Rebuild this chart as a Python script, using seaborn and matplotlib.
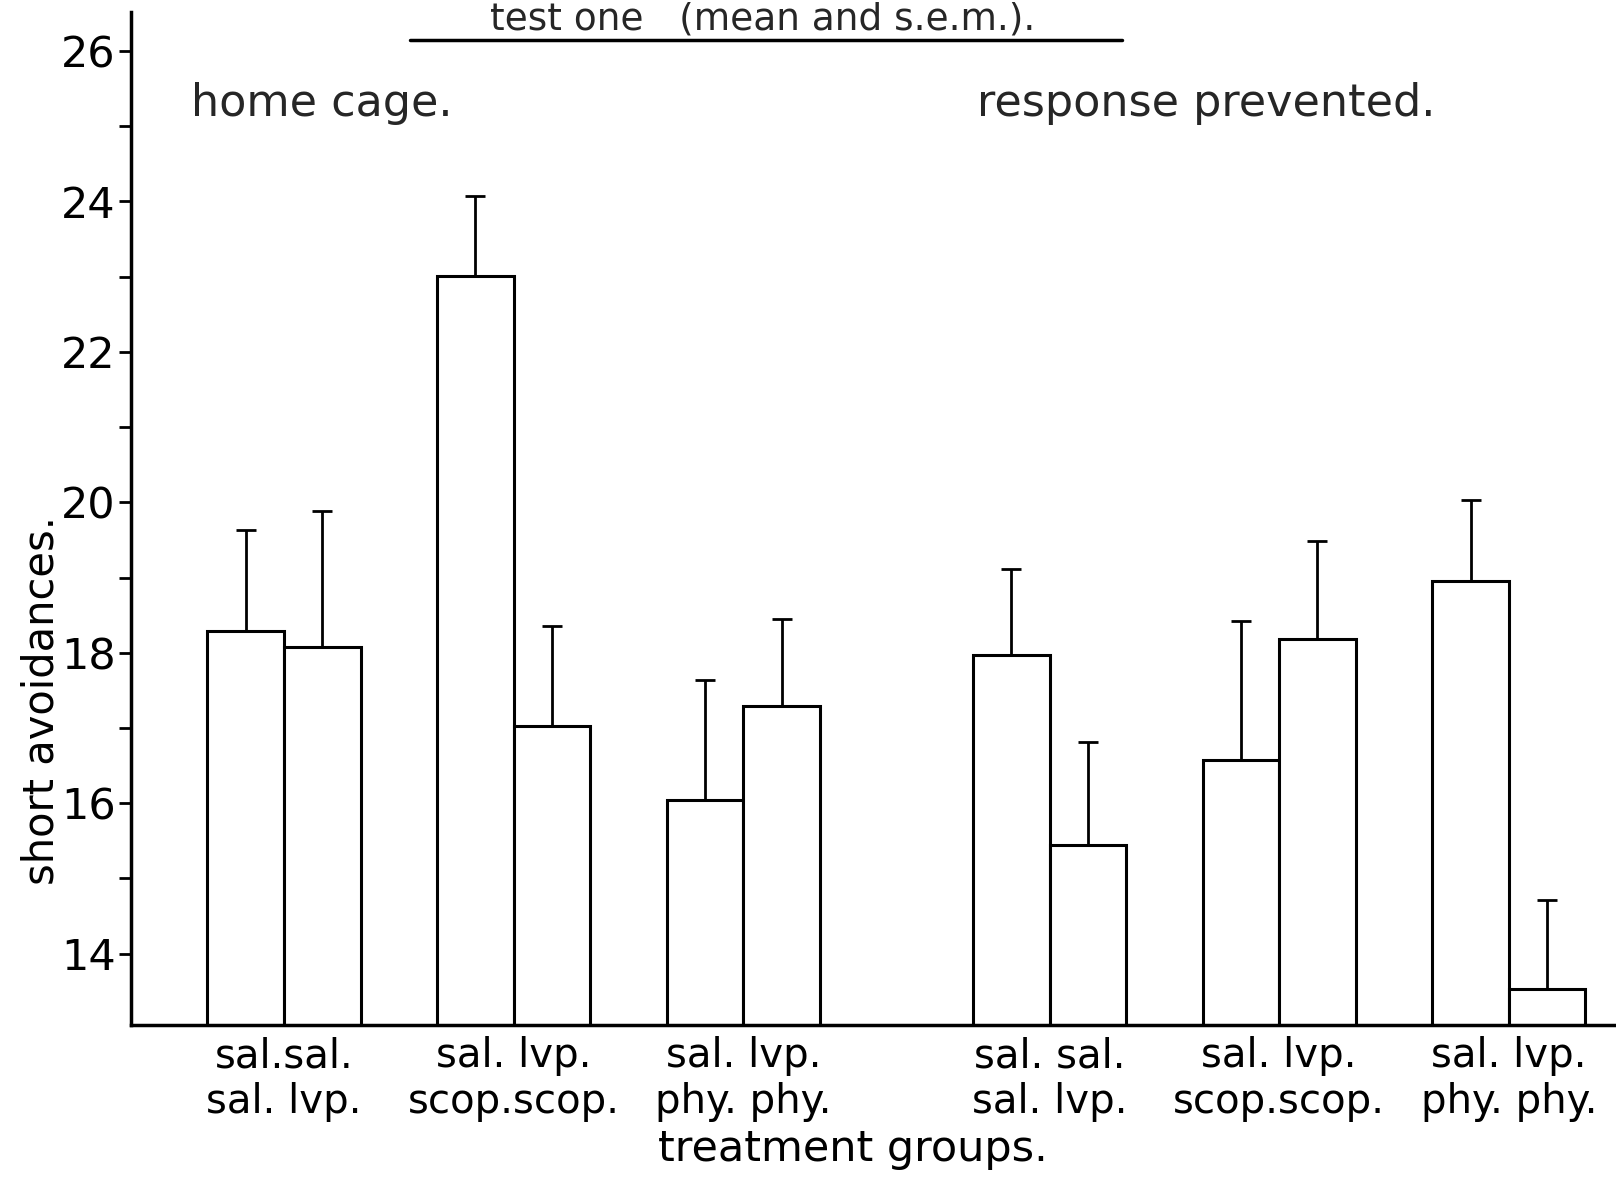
import matplotlib
matplotlib.use("Agg")
import matplotlib.pyplot as plt
from matplotlib.lines import Line2D
from matplotlib.ticker import MultipleLocator
import seaborn as sns
import pandas as pd
import numpy as np

# ---- data ----
group_labels = ["sal.sal.\nsal. lvp.", "sal. lvp.\nscop.scop.", "sal. lvp.\nphy. phy.",
                "sal. sal.\nsal. lvp.", "sal. lvp.\nscop.scop.", "sal. lvp.\nphy. phy."]
bar_slots = [1.5, 2.5, 4.5, 5.5, 7.5, 8.5, 11.5, 12.5, 14.5, 15.5, 17.5, 18.5]
means = [18.29, 18.08, 23.01, 17.03, 16.04, 17.29, 17.97, 15.45, 16.58, 18.18, 18.96, 13.53]
err_tops = [19.63, 19.88, 24.07, 18.36, 17.64, 18.45, 19.11, 16.82, 18.42, 19.49, 20.03, 14.71]
group_centers = [2, 5, 8, 12, 15, 18]
condition_labels = ["home cage.", "response prevented."]
y_ticks = [14, 16, 18, 20, 22, 24, 26]

sem = [t - m for t, m in zip(err_tops, means)]
df = pd.DataFrame({"slot": bar_slots, "mean": means})

sns.set_style("ticks")
plt.rcParams["font.family"] = ["DejaVu Sans"]

fig = plt.figure(figsize=(16.16, 11.81), dpi=100)
ax = fig.add_axes([0.081, 0.132, 0.919, 0.858])

ymin = 13.05
sns.barplot(data=df, x="slot", y="mean", native_scale=True, width=1.0,
            color="white", edgecolor="black", linewidth=2.2, errorbar=None,
            ax=ax)
ax.errorbar(bar_slots, means, yerr=[np.zeros(len(sem)), sem], fmt="none",
            ecolor="black", elinewidth=2.0, capsize=7.5, capthick=2.0)

ax.set_ylim(ymin, 26.52)
ax.set_xlim(0, 19.4)
ax.set_yticks(y_ticks)
ax.set_yticklabels([str(v) for v in y_ticks], fontsize=31)
ax.yaxis.set_minor_locator(MultipleLocator(1))
ax.tick_params(axis="y", which="both", direction="out", length=9, width=2, pad=2,
               colors="black")
ax.set_xticks(group_centers)
ax.set_xticklabels(group_labels, fontsize=29, linespacing=1.2)
ax.tick_params(axis="x", length=0, pad=8, colors="black")

ax.set_xlabel("treatment groups.", fontsize=31, color="black")
ax.xaxis.set_label_coords(0.486, -0.102)
ax.set_ylabel("short avoidances.", fontsize=30, color="black")
ax.yaxis.set_label_coords(-0.046, 0.32)

sns.despine(ax=ax)
ax.spines["left"].set_linewidth(2.5)
ax.spines["bottom"].set_linewidth(2.5)
ax.spines["left"].set_color("black")
ax.spines["bottom"].set_color("black")

ax.text(0.78, 25.3, condition_labels[0], fontsize=32, va="center", ha="left")
ax.text(11.05, 25.3, condition_labels[1], fontsize=32, va="center", ha="left")

fig.text(0.472, 0.999, "test one   (mean and s.e.m.).", fontsize=27,
         ha="center", va="top")
fig.add_artist(Line2D([0.254, 0.694], [0.966, 0.966], color="black", lw=2.5,
                      transform=fig.transFigure))

fig.savefig("out.png", dpi=100, facecolor="white")
